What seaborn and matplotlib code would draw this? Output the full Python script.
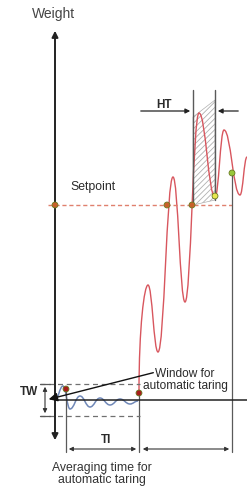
import matplotlib
matplotlib.use("Agg")
from matplotlib import pyplot as plt
from matplotlib.path import Path
from matplotlib.patches import PathPatch, Polygon
import seaborn as sns
import pandas as pd

# extrema of the weight signal (pixel coords of the diagram)
red_x = [139, 148, 158, 173, 185, 199, 215, 224, 240, 247]
red_y = [392, 285, 352, 177, 302, 113, 197, 130, 195, 157]

# damped settling wave used for automatic taring
blue_x = [55, 63, 70, 80, 90, 100, 110, 120, 130, 138]
blue_y = [400, 386, 409, 396, 407, 398, 405, 399, 404, 401]

setpoint_x = [55, 167, 192]
setpoint_y = [205, 205, 205]
tare_x = [66, 139]
tare_y = [389, 393]
hold_x = [215]
hold_y = [196]
stable_x = [232]
stable_y = [173]

sns.set_theme(style="white")
plt.rcParams['font.family'] = ['Liberation Sans', 'DejaVu Sans']
plt.rcParams['hatch.linewidth'] = 0.6
plt.rcParams['hatch.color'] = '#a0a0a0'


def wave_path(xs, ys, first_vertical=False):
    verts = [(xs[0], ys[0])]
    codes = [Path.MOVETO]
    for i in range(1, len(xs)):
        x0, y0, x1, y1 = xs[i - 1], ys[i - 1], xs[i], ys[i]
        dx = x1 - x0
        if i == 1 and first_vertical:
            c1 = (x0, y0 + (y1 - y0) * 0.6)
        else:
            c1 = (x0 + dx * 0.42, y0)
        c2 = (x1 - dx * 0.42, y1)
        verts += [c1, c2, (x1, y1)]
        codes += [Path.CURVE4] * 3
    return Path(verts, codes)


fig = plt.figure(figsize=(2.47, 4.88), dpi=100)
ax = fig.add_axes([0, 0, 1, 1])

gray = '#5a5a5a'
txt = '#2a2a2a'

# hatched hold-time window
ax.add_patch(Polygon([(193, 205), (193, 117), (215, 100), (215, 200)], closed=True,
                     facecolor='none', edgecolor='#b0b0b0', lw=0.5, hatch='//////'))

# setpoint line
ax.plot([48, 232], [205, 205], color='#e0806e', lw=1.0, ls=(0, (3, 2)))

# vertical guide lines
ax.plot([193, 193], [90, 205], color=gray, lw=1.0)
ax.plot([215, 215], [90, 200], color=gray, lw=1.0)
ax.plot([232, 232], [173, 452], color=gray, lw=0.9)
ax.plot([139, 139], [393, 452], color=gray, lw=0.9)
ax.plot([66, 66], [389, 452], color=gray, lw=0.9)

# tolerance window dashed lines
for yy in [384, 416]:
    ax.plot([40, 140], [yy, yy], color='#707070', lw=0.9, ls=(0, (4, 3)))
    ax.plot([40, 50], [yy, yy], color=gray, lw=0.9)

# baseline and weight axis
ax.plot([55, 247], [400, 400], color='#222222', lw=1.1)
ax.annotate('', xy=(55, 28), xytext=(55, 443),
            arrowprops=dict(arrowstyle='<|-|>', color='#222222', lw=1.4, mutation_scale=9))

# signals
ax.add_patch(PathPatch(wave_path(blue_x, blue_y), facecolor='none', edgecolor='#7088b8', lw=1.1))
ax.add_patch(PathPatch(wave_path(red_x, red_y, first_vertical=True), facecolor='none',
                       edgecolor='#d8565e', lw=1.0))

# markers
pts = pd.DataFrame({'x': setpoint_x + tare_x + hold_x + stable_x,
                    'y': setpoint_y + tare_y + hold_y + stable_y,
                    'kind': ['set'] * 3 + ['tare'] * 2 + ['hold', 'stable']})
sns.scatterplot(data=pts, x='x', y='y', hue='kind', ax=ax, s=18, legend=False, zorder=5,
                palette={'set': '#c8602a', 'tare': '#a81c1c', 'hold': '#e8e850', 'stable': '#98c83a'},
                edgecolor='#6a7a20', linewidth=0.6)
ax.set_xlim(0, 247)
ax.set_ylim(488, 0)
ax.axis('off')

# dimension arrows
arrow_kw = dict(arrowstyle='-|>', color='#222222', lw=0.9, mutation_scale=7)
ax.annotate('', xy=(193, 111), xytext=(138, 111), arrowprops=arrow_kw)
ax.annotate('', xy=(215, 111), xytext=(241, 111), arrowprops=arrow_kw)
dim_kw = dict(arrowstyle='<|-|>', color='#333333', lw=0.8, mutation_scale=6)
ax.annotate('', xy=(66, 449), xytext=(139, 449), arrowprops=dim_kw)
ax.annotate('', xy=(140, 449), xytext=(232, 449), arrowprops=dim_kw)
ax.annotate('', xy=(45, 384), xytext=(45, 416), arrowprops=dim_kw)

# window pointer
ax.annotate('', xy=(46, 400), xytext=(156, 372),
            arrowprops=dict(arrowstyle='-|>', color='#111111', lw=1.0, mutation_scale=13))

# labels
ax.text(53, 14, 'Weight', ha='center', va='center', fontsize=10, color='#444444')
ax.text(70, 187, 'Setpoint', ha='left', va='center', fontsize=8.8, color=txt)
ax.text(164, 105, 'HT', ha='center', va='center', fontsize=8.5, fontweight='bold', color=txt)
ax.text(185, 380, 'Window for\nautomatic taring', ha='center', va='center', fontsize=8.6,
        color=txt, linespacing=1.05)
ax.text(29, 392, 'TW', ha='center', va='center', fontsize=8.5, fontweight='bold', color=txt)
ax.text(106, 440, 'TI', ha='center', va='center', fontsize=8.5, fontweight='bold', color=txt)
ax.text(102, 474, 'Averaging time for\nautomatic taring', ha='center', va='center', fontsize=8.8,
        color='#333333', linespacing=1.05)

fig.savefig('out.png', dpi=100)
